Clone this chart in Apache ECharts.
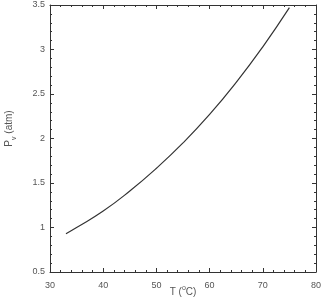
<!DOCTYPE html>
<html>
<head>
<meta charset="utf-8">
<script src="https://cdn.jsdelivr.net/npm/echarts@6/dist/echarts.min.js"></script>
<style>html,body{margin:0;padding:0;background:#fff}#c{width:322px;height:298px}</style>
</head>
<body>
<div id="c"></div>
<script>
const temps = [33, 35, 40, 45, 50, 55, 60, 65, 70, 75];
const pressures = [0.93, 1.00, 1.185, 1.41, 1.665, 1.95, 2.27, 2.63, 3.03, 3.47];
const xTicks = [30, 80, 10];
const yTicks = [0.5, 3.5, 0.5];

const data = temps.map((t, i) => [t, pressures[i]]);
const font = 'Liberation Sans, Arial, sans-serif';
const axisCol = '#333';
const lblCol = '#555';

function axisCommon(showLabel, range) {
  return {
    type: 'value', min: range[0], max: range[1], interval: range[2],
    axisLine: { show: true, onZero: false, lineStyle: { color: axisCol, width: 1 } },
    axisTick: { show: true, inside: true, length: 4, lineStyle: { color: axisCol } },
    minorTick: { show: true, splitNumber: 5, length: 2, lineStyle: { color: axisCol } },
    splitLine: { show: false },
    axisLabel: { show: showLabel, color: lblCol, fontSize: 9, fontFamily: font }
  };
}

const chart = echarts.init(document.getElementById('c'), null, { renderer: 'canvas' });
chart.setOption({
  animation: false,
  backgroundColor: '#fff',
  grid: { left: 50, right: 6, top: 5, bottom: 26, containLabel: false, outerBoundsMode: 'none' },
  xAxis: [
    Object.assign(axisCommon(true, xTicks), {
      position: 'bottom',
      axisLabel: { show: true, color: lblCol, fontSize: 9, fontFamily: font, margin: 9 },
      name: '{n|T (}{sup|o}{n|C)}', nameLocation: 'middle', nameGap: 19, nameMoveOverlap: false,
      nameTextStyle: {
        verticalAlign: 'middle',
        rich: {
          n: { fontSize: 10, color: lblCol, fontFamily: font, lineHeight: 12, verticalAlign: 'bottom' },
          sup: { fontSize: 7, color: lblCol, fontFamily: font, lineHeight: 12, verticalAlign: 'top' }
        }
      }
    }),
    Object.assign(axisCommon(false, xTicks), { position: 'top' })
  ],
  yAxis: [
    Object.assign(axisCommon(true, yTicks), {
      position: 'left',
      axisLabel: { show: true, color: lblCol, fontSize: 9, fontFamily: font, margin: 5 },
      name: '{n|P}{sub|v}{n| (atm)}', nameLocation: 'middle', nameGap: 39, nameMoveOverlap: false,
      nameTextStyle: {
        verticalAlign: 'middle',
        padding: [0, 0, 0, 20],
        rich: {
          n: { fontSize: 10, color: lblCol, fontFamily: font, lineHeight: 14, verticalAlign: 'top' },
          sub: { fontSize: 7, color: lblCol, fontFamily: font, lineHeight: 14, verticalAlign: 'bottom' }
        }
      }
    }),
    Object.assign(axisCommon(false, yTicks), { position: 'right' })
  ],
  series: [{
    type: 'line', xAxisIndex: 0, yAxisIndex: 0,
    data: data, smooth: true, showSymbol: false, symbol: 'none',
    lineStyle: { color: '#333', width: 1.2 }
  }]
});
</script>
</body>
</html>
